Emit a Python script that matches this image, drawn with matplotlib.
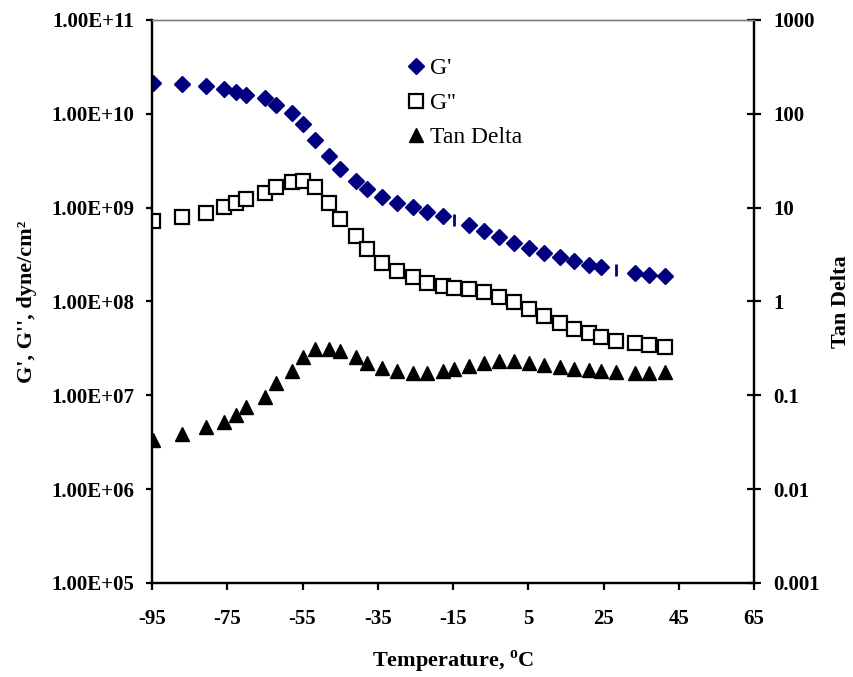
import matplotlib
matplotlib.use("Agg")
import matplotlib.pyplot as plt
import numpy as np
from matplotlib.ticker import FixedLocator, FuncFormatter, NullLocator
from matplotlib.lines import Line2D

plt.rcParams['font.family'] = ['Liberation Serif', 'DejaVu Serif']
plt.rcParams['mathtext.fontset'] = 'custom'
plt.rcParams['mathtext.rm'] = 'Liberation Serif'
plt.rcParams['mathtext.bf'] = 'Liberation Serif:bold'
plt.rcParams['axes.unicode_minus'] = False

# temperatures, deg C
temp = [-94.8, -86.9, -80.7, -75.8, -72.8, -69.9, -65.0, -62.1, -57.9, -54.8,
        -51.7, -48.0, -45.0, -40.8, -37.8, -33.8, -29.8, -25.7, -21.8, -17.7,
        -14.7, -10.7, -6.8, -2.9, 1.2, 5.3, 9.2, 13.3, 17.1, 21.2,
        24.3, 28.4, 33.4, 37.2, 41.3]

# storage modulus G', dyne/cm2
g_prime = [2.15e10, 2.08e10, 1.98e10, 1.82e10, 1.72e10, 1.60e10, 1.47e10, 1.25e10, 1.01e10, 7.7e9,
           5.26e9, 3.58e9, 2.56e9, 1.94e9, 1.57e9, 1.31e9, 1.11e9, 1.01e9, 9.06e8, 8.15e8,
           7.38e8, 6.53e8, 5.68e8, 4.90e8, 4.23e8, 3.72e8, 3.31e8, 3.00e8, 2.70e8, 2.47e8,
           2.35e8, 2.17e8, 2.03e8, 1.93e8, 1.87e8]
# points where the diamond only shows as a thin bar in the original
partial_idx = [20, 31]

# loss modulus G'', dyne/cm2
g_double = [7.26e8, 8.02e8, 8.84e8, 1.01e9, 1.11e9, 1.25e9, 1.44e9, 1.67e9, 1.89e9, 1.94e9,
            1.65e9, 1.13e9, 7.63e8, 5.02e8, 3.65e8, 2.59e8, 2.13e8, 1.81e8, 1.59e8, 1.46e8,
            1.39e8, 1.37e8, 1.26e8, 1.12e8, 9.95e7, 8.32e7, 7.06e7, 5.95e7, 5.09e7, 4.65e7,
            4.22e7, 3.82e7, 3.64e7, 3.44e7, 3.30e7]

# tan delta
tan_delta = [0.0334, 0.0387, 0.0456, 0.0524, 0.0617, 0.0757, 0.0967, 0.134, 0.183, 0.254,
             0.309, 0.314, 0.299, 0.254, 0.223, 0.196, 0.183, 0.172, 0.172, 0.183,
             0.191, 0.206, 0.223, 0.234, 0.234, 0.219, 0.209, 0.199, 0.191, 0.186,
             0.183, 0.179, 0.174, 0.174, 0.179]

x_ticks = [-95, -75, -55, -35, -15, 5, 25, 45, 65]
left_ticks = [1e5, 1e6, 1e7, 1e8, 1e9, 1e10, 1e11]
right_ticks = [0.001, 0.01, 0.1, 1, 10, 100, 1000]

temp = np.array(temp)
g_prime = np.array(g_prime)
full_idx = [i for i in range(len(temp)) if i not in partial_idx]

fig = plt.figure(figsize=(8.54, 6.77), dpi=100)
ax = fig.add_axes([0.178, 0.139, 0.705, 0.8315])
ax2 = ax.twinx()

navy = '#000080'
ax.plot(temp[full_idx], g_prime[full_idx], linestyle='none', marker='D', ms=8.5,
        color=navy, mec=navy)
ax.plot(temp[partial_idx], g_prime[partial_idx], linestyle='none', marker='|', ms=9,
        mew=2, color=navy)
ax.plot(temp, g_double, linestyle='none', marker='s', ms=10, mfc='white',
        mec='black', mew=1.6)
ax2.plot(temp, tan_delta, linestyle='none', marker='^', ms=10, color='black')

ax.set_xlim(-95, 65)
ax.set_yscale('log')
ax.set_ylim(1e5, 1e11)
ax2.set_yscale('log')
ax2.set_ylim(0.001, 1000)

ax.xaxis.set_major_locator(FixedLocator(x_ticks))
ax.xaxis.set_major_formatter(FuncFormatter(lambda v, p: "%d" % v))
ax.yaxis.set_major_locator(FixedLocator(left_ticks))
ax.yaxis.set_minor_locator(NullLocator())
ax.yaxis.set_major_formatter(FuncFormatter(lambda v, p: "%.2E" % v))
ax2.yaxis.set_major_locator(FixedLocator(right_ticks))
ax2.yaxis.set_minor_locator(NullLocator())
ax2.yaxis.set_major_formatter(FuncFormatter(lambda v, p: "%g" % v))

for a in (ax, ax2):
    for s in ('left', 'right', 'bottom'):
        a.spines[s].set_linewidth(1.6)
        a.spines[s].set_color('black')
    a.spines['top'].set_color('#808080')
    a.spines['top'].set_linewidth(1.0)

ax.tick_params(axis='x', direction='out', length=5, width=1.6, pad=14, labelsize=15)
ax.tick_params(axis='y', direction='out', length=4, width=1.6, pad=9, labelsize=15)
ax2.tick_params(axis='y', direction='inout', length=10, width=1.6, pad=9, labelsize=15)
for lab in ax.get_xticklabels() + ax.get_yticklabels() + ax2.get_yticklabels():
    lab.set_fontweight('bold')

ax.set_xlabel("Temperature, $^\\mathbf{o}$C", fontsize=16, fontweight='bold', labelpad=14)
ax.set_ylabel("G', G'', dyne/cm²", fontsize=16, fontweight='bold', labelpad=10)
ax2.set_ylabel("Tan Delta", fontsize=16, fontweight='bold', labelpad=8)

handles = [
    Line2D([], [], linestyle='none', marker='D', ms=8.5, color=navy),
    Line2D([], [], linestyle='none', marker='s', ms=10, mfc='white', mec='black', mew=1.6),
    Line2D([], [], linestyle='none', marker='^', ms=10, color='black'),
]
fig.legend(handles, ["G'", "G''", "Tan Delta"], loc='upper left',
           bbox_to_anchor=(0.462, 0.932), frameon=False, fontsize=17,
           handlelength=0.8, handletextpad=0.2, labelspacing=0.55, borderpad=0)

fig.savefig('out.png', dpi=100)
